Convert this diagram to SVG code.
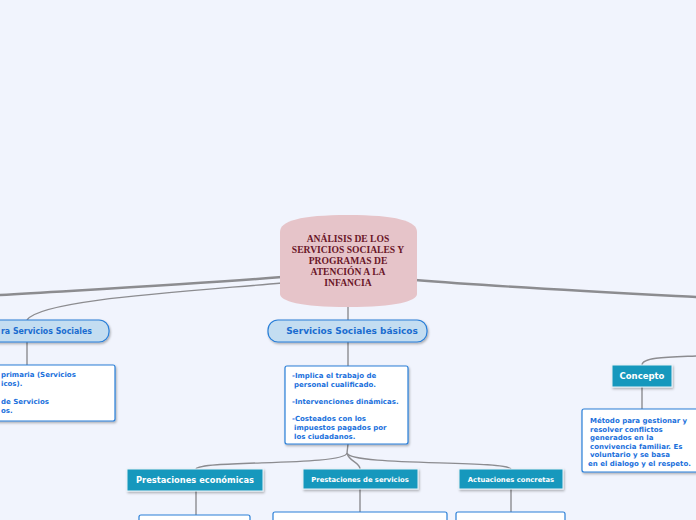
<svg xmlns="http://www.w3.org/2000/svg" width="696" height="520" viewBox="0 0 696 520">
<defs>
<filter id="sh" x="-10%" y="-10%" width="130%" height="140%">
<feDropShadow dx="1" dy="1.5" stdDeviation="0.8" flood-color="#000" flood-opacity="0.3"/>
</filter>
<style>
.bg{fill:#f1f4fd}
.main{fill:none;stroke:#8c8c90;stroke-width:2.4;stroke-linecap:round}
.thin{fill:none;stroke:#8c8c90;stroke-width:1.4}
.pill{fill:#c3ddf1;stroke:#2a7fd8;stroke-width:1.2}
.pilltxt{font-family:"DejaVu Sans",sans-serif;font-weight:bold;font-size:9px;fill:#1a6cd0}
.box{fill:#ffffff;stroke:#2a7fd8;stroke-width:1.2}
.boxtxt{font-family:"DejaVu Sans",sans-serif;font-weight:bold;font-size:7px;fill:#1a70dc}
.teal{fill:#1698bd;stroke:#e8f2f8;stroke-width:1}
.tealtxt{font-family:"DejaVu Sans",sans-serif;font-weight:bold;fill:#ffffff}
.center{fill:#e6c4c9}
.centertxt{font-family:"Liberation Serif",serif;font-weight:bold;font-size:9.6px;fill:#6a1628}
</style>
</defs>
<rect class="bg" x="0" y="0" width="696" height="520"/>

<g id="connectors">
<path class="main" d="M282,277 C200,284 100,289 0,295"/>
<path class="thin" d="M282,283 C180,292 40,300 27,320"/>
<path class="main" d="M415,280 C500,287 600,292 696,297"/>
<path class="thin" d="M348,307 L348,320"/>
<path class="thin" d="M27,342 L27,365"/>
<path class="thin" d="M348,342 L348,366"/>
<path class="thin" d="M348,444 L347,453"/>
<path class="thin" d="M347,453 C345,466 200,460 196,469"/>
<path class="thin" d="M347,453 C349,462 360,462 360,469"/>
<path class="thin" d="M347,453 C350,466 505,460 511,469"/>
<path class="thin" d="M196,491 L196,515"/>
<path class="thin" d="M360,489 L360,512"/>
<path class="thin" d="M511,489 L511,512"/>
<path class="thin" d="M642,365 C642,357 670,357 696,356"/>
<path class="thin" d="M642,387 L642,409"/>
</g>

<g id="node-center">
<path class="center" d="M280,232 C280,221 300,215 348,215 C396,215 417,221 417,232 L417,294 C417,301 396,307 348,307 C300,307 280,301 280,294 Z"/>
<text class="centertxt" text-anchor="middle" x="348" y="242">ANÁLISIS DE LOS</text>
<text class="centertxt" text-anchor="middle" x="348" y="253">SERVICIOS SOCIALES Y</text>
<text class="centertxt" text-anchor="middle" x="348" y="264">PROGRAMAS DE</text>
<text class="centertxt" text-anchor="middle" x="348" y="275">ATENCIÓN A LA</text>
<text class="centertxt" text-anchor="middle" x="348" y="286">INFANCIA</text>
</g>

<g id="node-left-pill">
<rect class="pill" x="-40" y="320" width="149" height="22" rx="10" filter="url(#sh)"/>
<text class="pilltxt" x="1" y="334" textLength="91" lengthAdjust="spacingAndGlyphs">ra Servicios Sociales</text>
</g>

<g id="node-left-box">
<rect class="box" x="-20" y="365" width="135" height="56" rx="2" filter="url(#sh)"/>
<text class="boxtxt" x="1" y="377">primaria (Servicios</text>
<text class="boxtxt" x="1" y="386">icos).</text>
<text class="boxtxt" x="1" y="404">de Servicios</text>
<text class="boxtxt" x="1" y="413">os.</text>
</g>

<g id="node-basicos">
<rect class="pill" x="268" y="320" width="159" height="22" rx="10" filter="url(#sh)"/>
<text class="pilltxt" text-anchor="middle" x="352" y="334">Servicios Sociales básicos</text>
</g>

<g id="node-basicos-box">
<rect class="box" x="285" y="366" width="123" height="78" rx="2" filter="url(#sh)"/>
<text class="boxtxt" x="292" y="378">-Implica el trabajo de</text>
<text class="boxtxt" x="294" y="387">personal cualificado.</text>
<text class="boxtxt" x="292" y="404">-Intervenciones dinámicas.</text>
<text class="boxtxt" x="292" y="421">-Costeados con los</text>
<text class="boxtxt" x="294" y="430">impuestos pagados por</text>
<text class="boxtxt" x="294" y="439">los ciudadanos.</text>
</g>

<g id="node-prest-econ">
<rect class="teal" x="127" y="469" width="136" height="22" filter="url(#sh)"/>
<text class="tealtxt" text-anchor="middle" x="195" y="483" font-size="8.3">Prestaciones económicas</text>
</g>

<g id="node-prest-serv">
<rect class="teal" x="303" y="469" width="115" height="20" filter="url(#sh)"/>
<text class="tealtxt" text-anchor="middle" x="360" y="481.5" font-size="6.8">Prestaciones de servicios</text>
</g>

<g id="node-actuaciones">
<rect class="teal" x="459" y="469" width="104" height="20" filter="url(#sh)"/>
<text class="tealtxt" text-anchor="middle" x="511" y="481.5" font-size="6.8">Actuaciones concretas</text>
</g>

<g id="node-bottom-boxes">
<rect class="box" x="139" y="515" width="111" height="20" rx="2"/>
<rect class="box" x="273" y="512" width="174" height="20" rx="2"/>
<rect class="box" x="456" y="512" width="109" height="20" rx="2"/>
</g>

<g id="node-concepto">
<rect class="teal" x="612" y="365" width="60" height="22" filter="url(#sh)"/>
<text class="tealtxt" text-anchor="middle" x="642" y="379" font-size="8.5">Concepto</text>
</g>

<g id="node-concepto-box">
<rect class="box" x="582" y="409" width="130" height="63" rx="2" filter="url(#sh)"/>
<text class="boxtxt" x="590" y="423">Método para gestionar y</text>
<text class="boxtxt" x="590" y="431.5">resolver conflictos</text>
<text class="boxtxt" x="590" y="440">generados en la</text>
<text class="boxtxt" x="590" y="448.5">convivencia familiar. Es</text>
<text class="boxtxt" x="590" y="457">voluntario y se basa</text>
<text class="boxtxt" x="588" y="465.5">en el dialogo y el respeto.</text>
</g>
</svg>
